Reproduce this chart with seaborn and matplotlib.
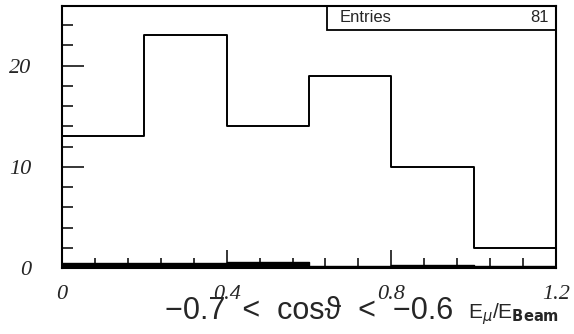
import numpy as np
import pandas as pd
import matplotlib
matplotlib.use("Agg")
import matplotlib.pyplot as plt
from matplotlib.ticker import MultipleLocator
from matplotlib.patches import Rectangle
import seaborn as sns

# Histogram contents: E_mu / E_beam in bins of 0.2
bin_edges = [0.0, 0.2, 0.4, 0.6, 0.8, 1.0, 1.2]
counts = [13, 23, 14, 19, 10, 2]
# Small background component drawn along the baseline
background = [0.5, 0.5, 0.6, 0.15, 0.25, 0.2]
entries = 81

x_ticks = [0.0, 0.4, 0.8, 1.2]
x_tick_labels = ["0", "0.4", "0.8", "1.2"]
y_ticks = [0, 10, 20]
y_tick_labels = ["0", "10", "20"]

centers = [(a + b) / 2 for a, b in zip(bin_edges[:-1], bin_edges[1:])]
df = pd.DataFrame({"x": centers, "n": counts, "bg": background})

sns.set_style("ticks")
plt.rcParams["font.family"] = ["Liberation Sans", "DejaVu Sans"]

fig = plt.figure(figsize=(5.74, 3.34), dpi=100)
ax = fig.add_axes([62 / 574, 66 / 334, 494 / 574, 262 / 334])

sns.histplot(data=df, x="x", weights="n", bins=bin_edges, element="step",
             fill=False, color="black", linewidth=1.4, ax=ax)
sns.histplot(data=df, x="x", weights="bg", bins=bin_edges, element="step",
             fill=True, color="black", alpha=1.0, linewidth=1.0, ax=ax)

ax.set_xlim(0, 1.2)
ax.set_ylim(0, 25.9)
ax.set_xlabel("")
ax.set_ylabel("")

for side in ["left", "right", "top", "bottom"]:
    ax.spines[side].set_visible(True)
    ax.spines[side].set_linewidth(1.5)
    ax.spines[side].set_color("black")

serif_it = dict(family="Liberation Serif", style="italic", size=16)
ax.set_xticks(x_ticks)
ax.set_xticklabels(x_tick_labels, fontdict=serif_it)
ax.set_yticks(y_ticks)
ax.set_yticklabels(y_tick_labels, fontdict=serif_it)
ax.xaxis.set_minor_locator(MultipleLocator(0.08))
ax.yaxis.set_minor_locator(MultipleLocator(2))

ax.tick_params(axis="x", which="major", direction="in", length=13, width=1.3,
               pad=12, top=False)
ax.tick_params(axis="x", which="minor", direction="in", length=7, width=1.3,
               top=False)
ax.tick_params(axis="y", which="major", direction="in", length=16, width=1.3,
               pad=22, right=False)
ax.tick_params(axis="y", which="minor", direction="in", length=8, width=1.3,
               right=False)

# Statistics box in the upper right corner
ax.add_patch(Rectangle((0.536, 0.908), 0.464, 0.092, transform=ax.transAxes,
                       fill=False, edgecolor="black", linewidth=1.3,
                       clip_on=False, zorder=5))
ax.text(0.563, 0.955, "Entries", transform=ax.transAxes, ha="left",
        va="center", fontsize=12)
ax.text(0.986, 0.955, f"{entries}", transform=ax.transAxes, ha="right",
        va="center", fontsize=12)

# Axis caption below the frame
fig.text(165 / 574, 1 - 311 / 334,
         "\u22120.7  <  cos\u03d1  <  \u22120.6",
         ha="left", va="center", fontsize=22,
         family=["Liberation Sans", "DejaVu Sans"])
fig.text(468 / 574, 1 - 314 / 334, r"E$_{\mu}$/E$_{\mathbf{Beam}}$",
         ha="left", va="center", fontsize=15)

fig.savefig("out.png", dpi=100, facecolor="white")
